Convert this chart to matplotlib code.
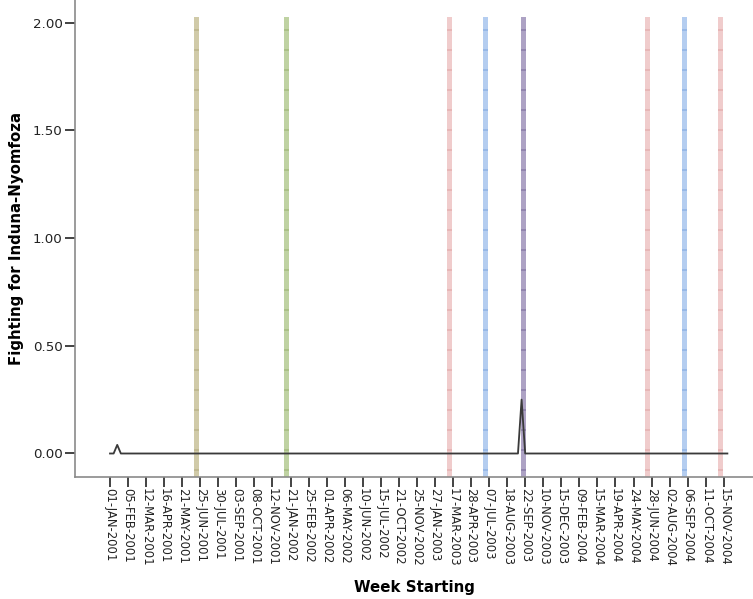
import matplotlib
matplotlib.use("Agg")
import matplotlib.pyplot as plt
import numpy as np

# Weekly series (categorical weeks, only those present in the data)
n_weeks = 172
spike_weeks = [2, 114]
spike_values = [0.04, 0.25]

tick_labels = [
    "01-JAN-2001", "05-FEB-2001", "12-MAR-2001", "16-APR-2001", "21-MAY-2001",
    "25-JUN-2001", "30-JUL-2001", "03-SEP-2001", "08-OCT-2001", "12-NOV-2001",
    "21-JAN-2002", "25-FEB-2002", "01-APR-2002", "06-MAY-2002", "10-JUN-2002",
    "15-JUL-2002", "21-OCT-2002", "25-NOV-2002", "27-JAN-2003", "17-MAR-2003",
    "28-APR-2003", "07-JUL-2003", "18-AUG-2003", "22-SEP-2003", "10-NOV-2003",
    "15-DEC-2003", "09-FEB-2004", "15-MAR-2004", "19-APR-2004", "24-MAY-2004",
    "28-JUN-2004", "02-AUG-2004", "06-SEP-2004", "11-OCT-2004", "15-NOV-2004",
]
tick_step = 5

# Event markers: week position, fill colour, hatch-line colour
event_weeks = [24, 49, 94, 104, 114.5, 149, 159, 169]
event_fill = ["#d0caa8", "#bfd2a2", "#f0cccc", "#b4cdf0", "#ada2c4",
              "#f0cccc", "#b4cdf0", "#f0cccc"]
event_line = ["#b0a77a", "#96b06c", "#e0a2a2", "#7ca4e0", "#76689a",
              "#e0a2a2", "#7ca4e0", "#e0a2a2"]
event_top = 2.026

fighting = np.zeros(n_weeks)
for w, v in zip(spike_weeks, spike_values):
    fighting[w] = v

plt.rcParams["hatch.linewidth"] = 0.6
plt.rcParams["font.family"] = "DejaVu Sans"

dpi = 120
fig = plt.figure(figsize=(753 / dpi, 599 / dpi), dpi=dpi)
ax = fig.add_axes([75 / 753, 122.3 / 599, 1 - 75 / 753, 1 - 122.3 / 599])

x = np.arange(n_weeks)
ymin = -0.1077
for w, fc, lc in zip(event_weeks, event_fill, event_line):
    ax.fill_between([w - 0.7, w + 0.7], ymin, event_top, facecolor=fc,
                    edgecolor=lc, hatch="-", linewidth=0, zorder=1)

ax.plot(x, fighting, color="#3a3a3a", linewidth=1.1, zorder=3)

ax.set_xlim(-9.7, 178.1)
ax.set_ylim(ymin, 2.105)

ax.set_xticks(np.arange(0, len(tick_labels) * tick_step, tick_step))
ax.set_xticklabels(tick_labels, rotation=270, fontsize=7.0, color="#222222")
ax.set_yticks([0, 0.5, 1.0, 1.5, 2.0])
ax.set_yticklabels(["0.00", "0.50", "1.00", "1.50", "2.00"], fontsize=8,
                   color="#222222")

ax.tick_params(axis="both", direction="out", length=6, width=1.0,
               color="#222222")
ax.tick_params(axis="x", pad=1)
ax.tick_params(axis="y", pad=1.5)

for side in ("top", "right"):
    ax.spines[side].set_visible(False)
for side in ("left", "bottom"):
    ax.spines[side].set_color("#8a8a8a")
    ax.spines[side].set_linewidth(1.0)

ax.set_xlabel("Week Starting", fontsize=9, fontweight="bold", labelpad=8)
ax.set_ylabel("Fighting for Induna-Nyomfoza", fontsize=9, fontweight="bold",
              labelpad=5)

fig.savefig("out.png", dpi=dpi)
